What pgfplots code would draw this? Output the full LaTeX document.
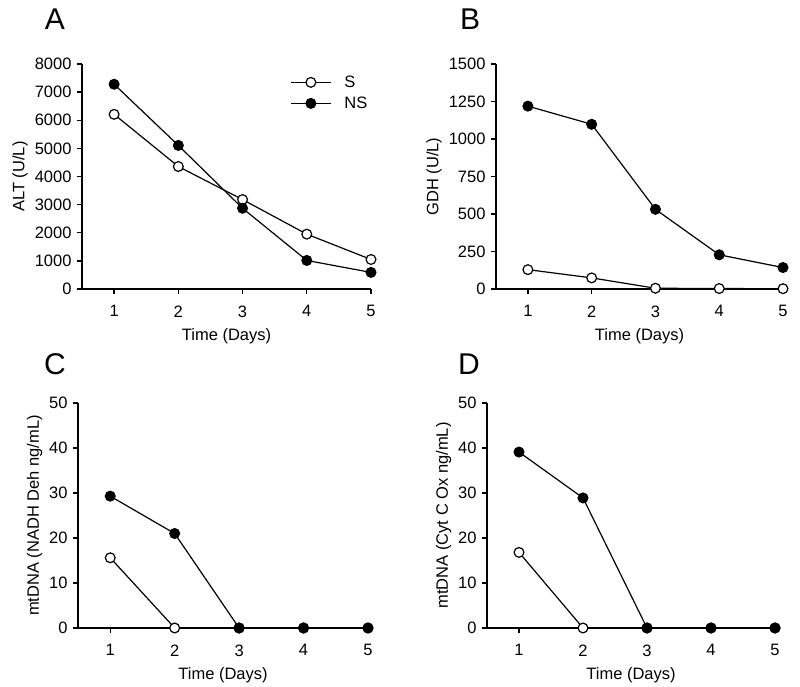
\documentclass[border=0pt]{standalone}
\usepackage{fontspec}
\setmainfont{Liberation Sans}
\usepackage{pgfplots}
\pgfplotsset{compat=1.18}
\newcommand{\lbl}{\fontsize{16.5}{18}\selectfont}
\pgfplotsset{
  panel/.style={
    scale only axis, height=225pt,
    axis x line*=bottom, axis y line*=left,
    xmin=0.5, xmax=5, xtick={1,2,3,4,5},
    ymin=0,
    tick align=outside, major tick length=5pt,
    axis line style={line width=1.4pt},
    major tick style={line width=1.4pt, black},
    tick label style={font=\lbl},
    label style={font=\lbl},
    xlabel={Time (Days)},
    xlabel style={yshift=-4pt},
    scaled ticks=false,
    /pgf/number format/assume math mode=true,
    /pgf/number format/1000 sep={},
    clip=false,
    xticklabel style={yshift=-8pt},
    yticklabel style={xshift=-2pt},
  },
  sS/.style={black, line width=1.2pt, mark=*, mark size=4.9pt, mark options={fill=white, line width=1.2pt}},
  sNS/.style={black, line width=1.2pt, mark=*, mark size=4.9pt, mark options={fill=black, line width=1.2pt}},
}
\begin{document}
\begin{tikzpicture}
\path[use as bounding box] (0pt,0pt) rectangle (800pt,687pt);
% Panel A
\begin{axis}[panel, at={(82pt,398pt)}, anchor=south west, width=289pt,
  ymax=8000, ytick={0,1000,2000,3000,4000,5000,6000,7000,8000},
  ylabel={ALT (U/L)},
  legend style={at={(axis description cs:0.72,0.957)}, anchor=north west, draw=none, fill=none, font=\lbl, row sep=4pt, column sep=11pt, inner sep=0pt},
  legend cell align=left,
  legend image code/.code={\draw[mark repeat=2,mark phase=2,#1] plot coordinates {(0pt,0pt) (20pt,0pt) (40pt,0pt)};},
  ]
\addplot[sS] coordinates {(1,6210) (2,4355) (3,3180) (4,1950) (5,1050)};
\addplot[sNS] coordinates {(1,7280) (2,5105) (3,2870) (4,1015) (5,590)};
\legend{S,NS}
\end{axis}
% Panel B
\begin{axis}[panel, at={(496pt,398pt)}, anchor=south west, width=287pt,
  ymax=1500, ytick={0,250,500,750,1000,1250,1500},
  ylabel={GDH (U/L)}]
\addplot[sS] coordinates {(1,129) (2,74) (3,5) (4,3) (5,2)};
\addplot[sNS] coordinates {(1,1219) (2,1098) (3,531) (4,228) (5,143)};
\end{axis}
% Panel C
\begin{axis}[panel, at={(78pt,59pt)}, anchor=south west, width=290pt,
  ymax=50, ytick={0,10,20,30,40,50},
  ylabel={mtDNA (NADH Deh ng/mL)}]
\addplot[sS] coordinates {(1,15.6) (2,0) (3,0) (4,0) (5,0)};
\addplot[sNS] coordinates {(1,29.3) (2,21.0) (3,0) (4,0) (5,0)};
\end{axis}
% Panel D
\begin{axis}[panel, at={(487pt,59pt)}, anchor=south west, width=288pt,
  ymax=50, ytick={0,10,20,30,40,50},
  ylabel={mtDNA (Cyt C Ox ng/mL)}]
\addplot[sS] coordinates {(1,16.8) (2,0) (3,0) (4,0) (5,0)};
\addplot[sNS] coordinates {(1,39.1) (2,28.9) (3,0) (4,0) (5,0)};
\end{axis}
\node[font=\fontsize{30}{33}\selectfont] at (55pt,668pt) {A};
\node[font=\fontsize{30}{33}\selectfont] at (470pt,668pt) {B};
\node[font=\fontsize{30}{33}\selectfont] at (55pt,323pt) {C};
\node[font=\fontsize{30}{33}\selectfont] at (469pt,323pt) {D};
\end{tikzpicture}
\end{document}
